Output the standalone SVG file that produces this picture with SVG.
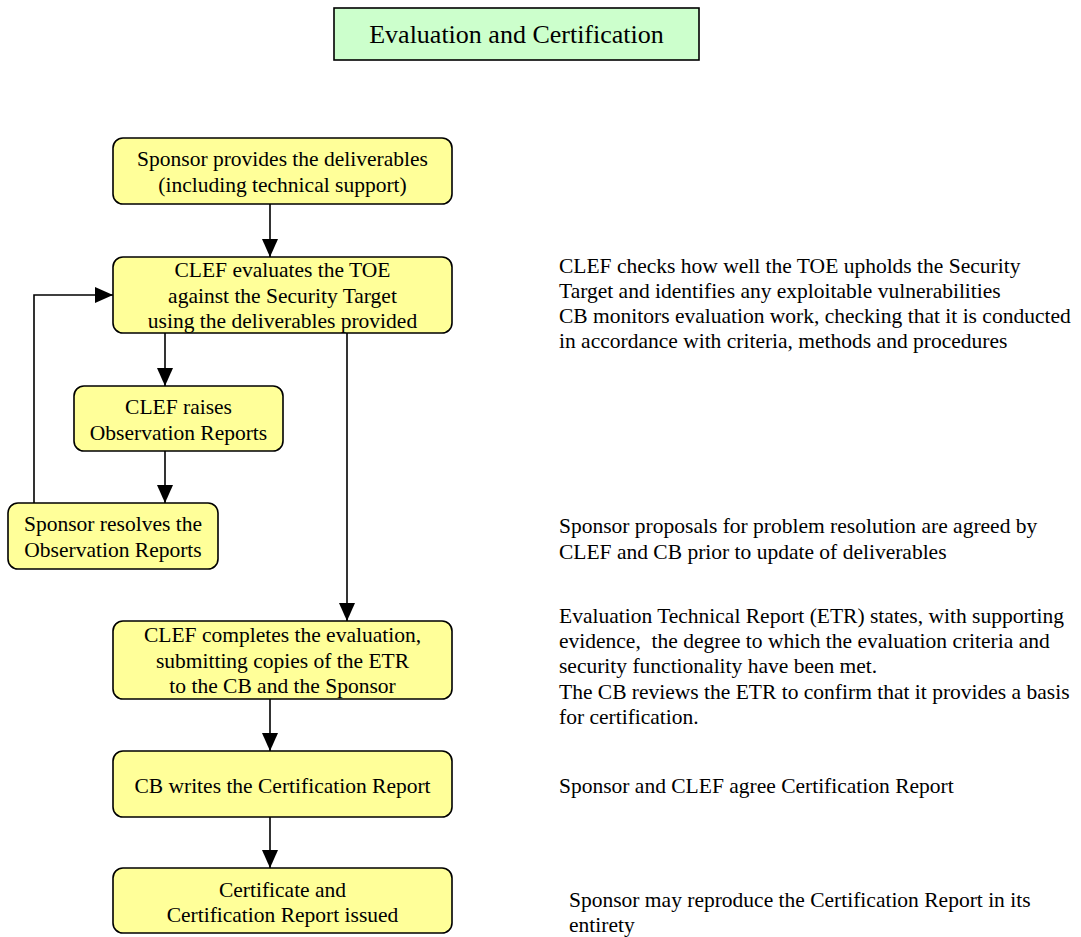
<svg xmlns="http://www.w3.org/2000/svg" width="1081" height="937" viewBox="0 0 1081 937">
  <style>
    .node rect { fill: #FFFF99; stroke: #000; stroke-width: 1.6; }
    .title rect { fill: #CCFFCC; stroke: #000; stroke-width: 1.6; }
    text { font-family: "Liberation Serif", "Times New Roman", serif; fill: #000; }
    .lbl { font-size: 21.5px; text-anchor: middle; }
    .note { font-size: 21.5px; }
    .ttl { font-size: 26px; text-anchor: middle; }
    .edge { fill: none; stroke: #000; stroke-width: 1.6; marker-end: url(#arrow); }
  </style>
  <defs>
    <marker id="arrow" markerUnits="userSpaceOnUse" markerWidth="18" markerHeight="18" viewBox="0 0 18 16" refX="18" refY="8" orient="auto">
      <path d="M0,0 L18,8 L0,16 Z" fill="#000"/>
    </marker>
  </defs>
  <rect width="1081" height="937" fill="#fff"/>

  <g id="title" class="title">
    <rect x="334" y="8" width="365" height="52"/>
    <text class="ttl" x="516.5" y="43">Evaluation and Certification</text>
  </g>

  <g id="connectors">
    <path class="edge" d="M270,204 L270,257"/>
    <path class="edge" d="M165,333 L165,386"/>
    <path class="edge" d="M165,451 L165,503"/>
    <path class="edge" d="M34,503 L34,295 L113,295"/>
    <path class="edge" d="M347,333 L347,621"/>
    <path class="edge" d="M270,699 L270,751"/>
    <path class="edge" d="M270,817 L270,868"/>
  </g>

  <g id="provide" class="node">
    <rect x="113" y="138" width="339" height="66" rx="10"/>
    <text class="lbl" x="282.5" y="166">Sponsor provides the deliverables</text>
    <text class="lbl" x="282.5" y="192">(including technical support)</text>
  </g>

  <g id="evaluate" class="node">
    <rect x="113" y="257" width="339" height="76" rx="10"/>
    <text class="lbl" x="282.5" y="277">CLEF evaluates the TOE</text>
    <text class="lbl" x="282.5" y="303">against the Security Target</text>
    <text class="lbl" x="282.5" y="328">using the deliverables provided</text>
  </g>

  <g id="raise" class="node">
    <rect x="74" y="386" width="209" height="65" rx="10"/>
    <text class="lbl" x="178.5" y="414">CLEF raises</text>
    <text class="lbl" x="178.5" y="440">Observation Reports</text>
  </g>

  <g id="resolve" class="node">
    <rect x="8" y="503" width="210" height="66" rx="10"/>
    <text class="lbl" x="113" y="531">Sponsor resolves the</text>
    <text class="lbl" x="113" y="557">Observation Reports</text>
  </g>

  <g id="complete" class="node">
    <rect x="113" y="621" width="339" height="78" rx="10"/>
    <text class="lbl" x="282.5" y="642">CLEF completes the evaluation,</text>
    <text class="lbl" x="282.5" y="668">submitting copies of the ETR</text>
    <text class="lbl" x="282.5" y="693">to the CB and the Sponsor</text>
  </g>

  <g id="report" class="node">
    <rect x="113" y="751" width="339" height="66" rx="10"/>
    <text class="lbl" x="282.5" y="793">CB writes the Certification Report</text>
  </g>

  <g id="issue" class="node">
    <rect x="113" y="868" width="339" height="65" rx="10"/>
    <text class="lbl" x="282.5" y="897">Certificate and</text>
    <text class="lbl" x="282.5" y="922">Certification Report issued</text>
  </g>

  <g id="notes" class="note">
    <text x="559" y="273">CLEF checks how well the TOE upholds the Security</text>
    <text x="559" y="298">Target and identifies any exploitable vulnerabilities</text>
    <text x="559" y="323">CB monitors evaluation work, checking that it is conducted</text>
    <text x="559" y="348">in accordance with criteria, methods and procedures</text>

    <text x="559" y="533">Sponsor proposals for problem resolution are agreed by</text>
    <text x="559" y="559">CLEF and CB prior to update of deliverables</text>

    <text x="559" y="623">Evaluation Technical Report (ETR) states, with supporting</text>
    <text x="559" y="648" xml:space="preserve">evidence,  the degree to which the evaluation criteria and</text>
    <text x="559" y="673">security functionality have been met.</text>
    <text x="559" y="699">The CB reviews the ETR to confirm that it provides a basis</text>
    <text x="559" y="724">for certification.</text>

    <text x="559" y="793">Sponsor and CLEF agree Certification Report</text>

    <text x="569" y="907">Sponsor may reproduce the Certification Report in its</text>
    <text x="569" y="932">entirety</text>
  </g>
</svg>
